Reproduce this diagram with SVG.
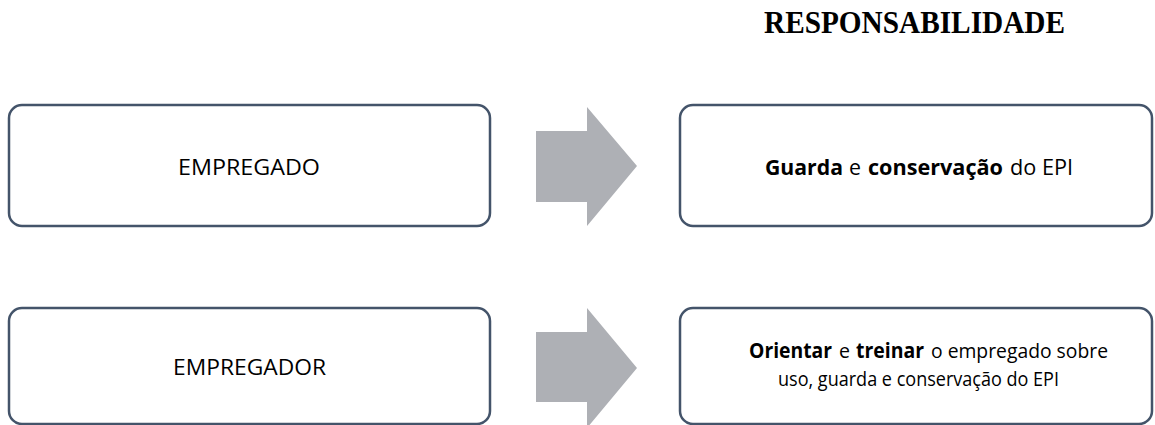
<svg xmlns="http://www.w3.org/2000/svg" width="1155" height="425" viewBox="0 0 1155 425">
<style>
.box{fill:#fff;stroke:#44546A;stroke-width:2.5}
.arrow{fill:#AEB0B5}
.t{font-family:"Open Sans","Liberation Sans",sans-serif;font-size:22px;fill:#000}
.s{font-size:20.5px}
.b{font-weight:bold}
.title{font-family:"Liberation Serif",serif;font-weight:bold;font-size:31px;fill:#000}
</style>
<rect width="1155" height="425" fill="#fff"/>
<text class="title" x="764" y="33" textLength="301" lengthAdjust="spacingAndGlyphs">RESPONSABILIDADE</text>
<g id="connectors">
<polygon class="arrow" points="536,131 587,131 587,107 637,166 587,226 587,202 536,202"/>
<polygon class="arrow" points="536,332 587,332 587,308 637,368 587,428 587,402 536,402"/>
</g>
<g id="empregado">
<rect class="box" x="9" y="105" width="481" height="121" rx="13"/>
<text class="t" x="178" y="175" textLength="142" lengthAdjust="spacingAndGlyphs">EMPREGADO</text>
</g>
<g id="resp-empregado">
<rect class="box" x="680" y="105" width="472" height="121" rx="13"/>
<text class="t b" x="765" y="175" textLength="78" lengthAdjust="spacingAndGlyphs">Guarda</text>
<text class="t" x="849" y="175" textLength="12" lengthAdjust="spacingAndGlyphs">e</text>
<text class="t b" x="868" y="175" textLength="135" lengthAdjust="spacingAndGlyphs">conservação</text>
<text class="t" x="1010" y="175" textLength="63" lengthAdjust="spacingAndGlyphs">do EPI</text>
</g>
<g id="empregador">
<rect class="box" x="9" y="308" width="481" height="116" rx="13"/>
<text class="t" x="173" y="375" textLength="153" lengthAdjust="spacingAndGlyphs">EMPREGADOR</text>
</g>
<g id="resp-empregador">
<rect class="box" x="680" y="308" width="472" height="116" rx="13"/>
<text class="t s b" x="749" y="358" textLength="83" lengthAdjust="spacingAndGlyphs">Orientar</text>
<text class="t s" x="839" y="358" textLength="11" lengthAdjust="spacingAndGlyphs">e</text>
<text class="t s b" x="856" y="358" textLength="68" lengthAdjust="spacingAndGlyphs">treinar</text>
<text class="t s" x="931" y="358" textLength="177" lengthAdjust="spacingAndGlyphs">o empregado sobre</text>
<text class="t s" x="778" y="386" textLength="281" lengthAdjust="spacingAndGlyphs">uso, guarda e conservação do EPI</text>
</g>
</svg>
